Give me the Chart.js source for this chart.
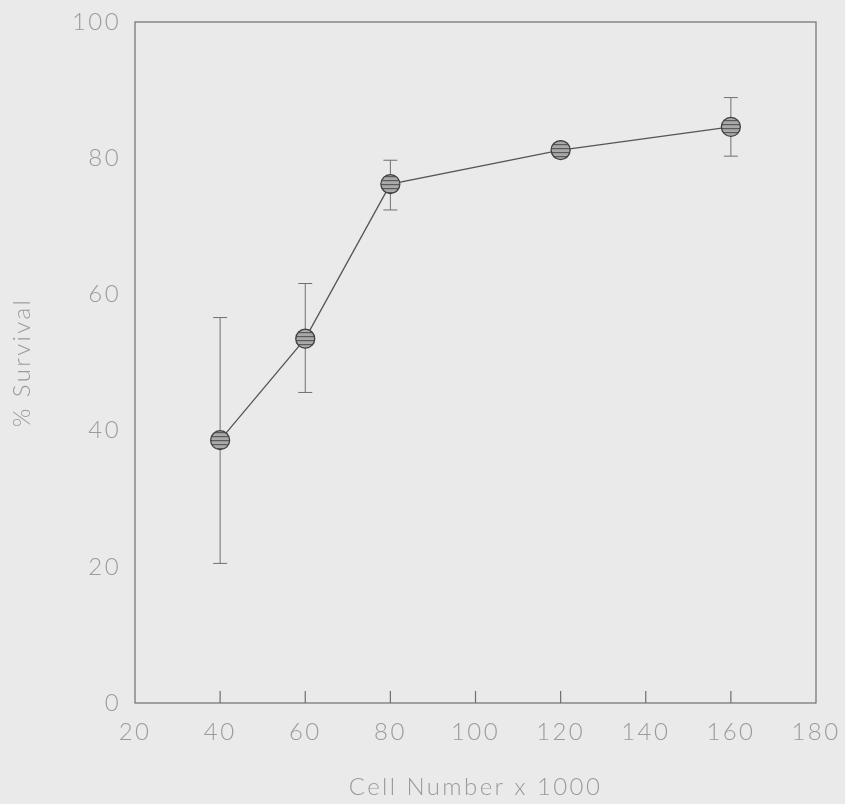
<!DOCTYPE html>
<html>
<head>
<meta charset="utf-8">
<script src="https://cdn.jsdelivr.net/npm/chart.js@4"></script>
<style>
  html, body { margin: 0; padding: 0; background: #eaeaea; }
  #wrap { width: 845px; height: 804px; }
</style>
</head>
<body>
<div id="wrap"><canvas id="survivalChart" width="845" height="804"></canvas></div>
<script>
// values
const cellNumbers = [40, 60, 80, 120, 160];
const survival = [38.6, 53.5, 76.2, 81.2, 84.6];
const errHigh = [56.6, 61.6, 79.7, 81.8, 88.9];
const errLow = [20.5, 45.6, 72.4, 80.6, 80.3];
const xTicks = [20, 40, 60, 80, 100, 120, 140, 160, 180];
const yTicks = [0, 20, 40, 60, 80, 100];

const textColor = "#9b9b9b";
const axisColor = "#6e6e6e";

// striped grey fill for the markers
const stripes = document.createElement("canvas");
stripes.width = 8;
stripes.height = 4;
const sctx = stripes.getContext("2d");
sctx.fillStyle = "#a9a9a9";
sctx.fillRect(0, 0, 8, 4);
sctx.fillStyle = "#5a5a5a";
sctx.fillRect(0, 0, 8, 1.2);
const ctx = document.getElementById("survivalChart").getContext("2d");
const stripePattern = ctx.createPattern(stripes, "repeat");

const framePlugin = {
  id: "frame",
  beforeDraw(chart) {
    chart.ctx.letterSpacing = "2.4px";
  },
  beforeDatasetsDraw(chart) {
    const { ctx, chartArea: a, scales } = chart;
    ctx.save();
    // box
    ctx.strokeStyle = axisColor;
    ctx.lineWidth = 1.2;
    ctx.strokeRect(a.left, a.top, a.right - a.left, a.bottom - a.top);
    // inward ticks on the bottom axis
    xTicks.slice(1, -1).forEach((v) => {
      const px = scales.x.getPixelForValue(v);
      ctx.beginPath();
      ctx.moveTo(px, a.bottom);
      ctx.lineTo(px, a.bottom - 12);
      ctx.stroke();
    });
    // error bars
    ctx.strokeStyle = "#707070";
    ctx.lineWidth = 1;
    cellNumbers.forEach((c, i) => {
      const px = scales.x.getPixelForValue(c);
      const hi = scales.y.getPixelForValue(errHigh[i]);
      const lo = scales.y.getPixelForValue(errLow[i]);
      ctx.beginPath();
      ctx.moveTo(px, hi);
      ctx.lineTo(px, lo);
      ctx.moveTo(px - 7, hi);
      ctx.lineTo(px + 7, hi);
      ctx.moveTo(px - 7, lo);
      ctx.lineTo(px + 7, lo);
      ctx.stroke();
    });
    ctx.restore();
  },
};

new Chart(ctx, {
  type: "line",
  data: {
    datasets: [
      {
        data: cellNumbers.map((c, i) => ({ x: c, y: survival[i] })),
        borderColor: "#555555",
        borderWidth: 1.3,
        tension: 0,
        pointRadius: 9.5,
        pointBackgroundColor: stripePattern,
        pointBorderColor: "#3f3f3f",
        pointBorderWidth: 1.3,
      },
    ],
  },
  options: {
    responsive: false,
    animation: false,
    layout: { padding: { top: 22, right: 29, left: 0, bottom: 0 } },
    plugins: { legend: { display: false }, tooltip: { enabled: false } },
    scales: {
      x: {
        type: "linear",
        min: 20,
        max: 180,
        afterBuildTicks: (s) => (s.ticks = xTicks.map((v) => ({ value: v }))),
        afterFit: (s) => {
          s.height = 101;
          s.paddingLeft = 0;
          s.paddingRight = 0;
        },
        grid: { display: false, drawTicks: false },
        border: { display: false },
        ticks: {
          color: textColor,
          padding: 15,
          maxRotation: 0,
          font: { family: "Lato", size: 24, weight: 300 },
        },
        title: {
          display: true,
          text: "Cell Number x 1000",
          color: textColor,
          padding: { top: 0, bottom: 2 },
          font: { family: "Lato", size: 24, weight: 300 },
        },
      },
      y: {
        min: 0,
        max: 100,
        afterBuildTicks: (s) => (s.ticks = yTicks.map((v) => ({ value: v }))),
        afterFit: (s) => {
          s.width = 135;
          s.paddingTop = 0;
          s.paddingBottom = 0;
        },
        grid: { display: false, drawTicks: false },
        border: { display: false },
        ticks: {
          color: textColor,
          padding: 14,
          font: { family: "Lato", size: 24, weight: 300 },
        },
        title: {
          display: true,
          text: "% Survival",
          color: textColor,
          padding: { top: 8, bottom: 0 },
          font: { family: "Lato", size: 24, weight: 300 },
        },
      },
    },
  },
  plugins: [framePlugin],
});
</script>
</body>
</html>
